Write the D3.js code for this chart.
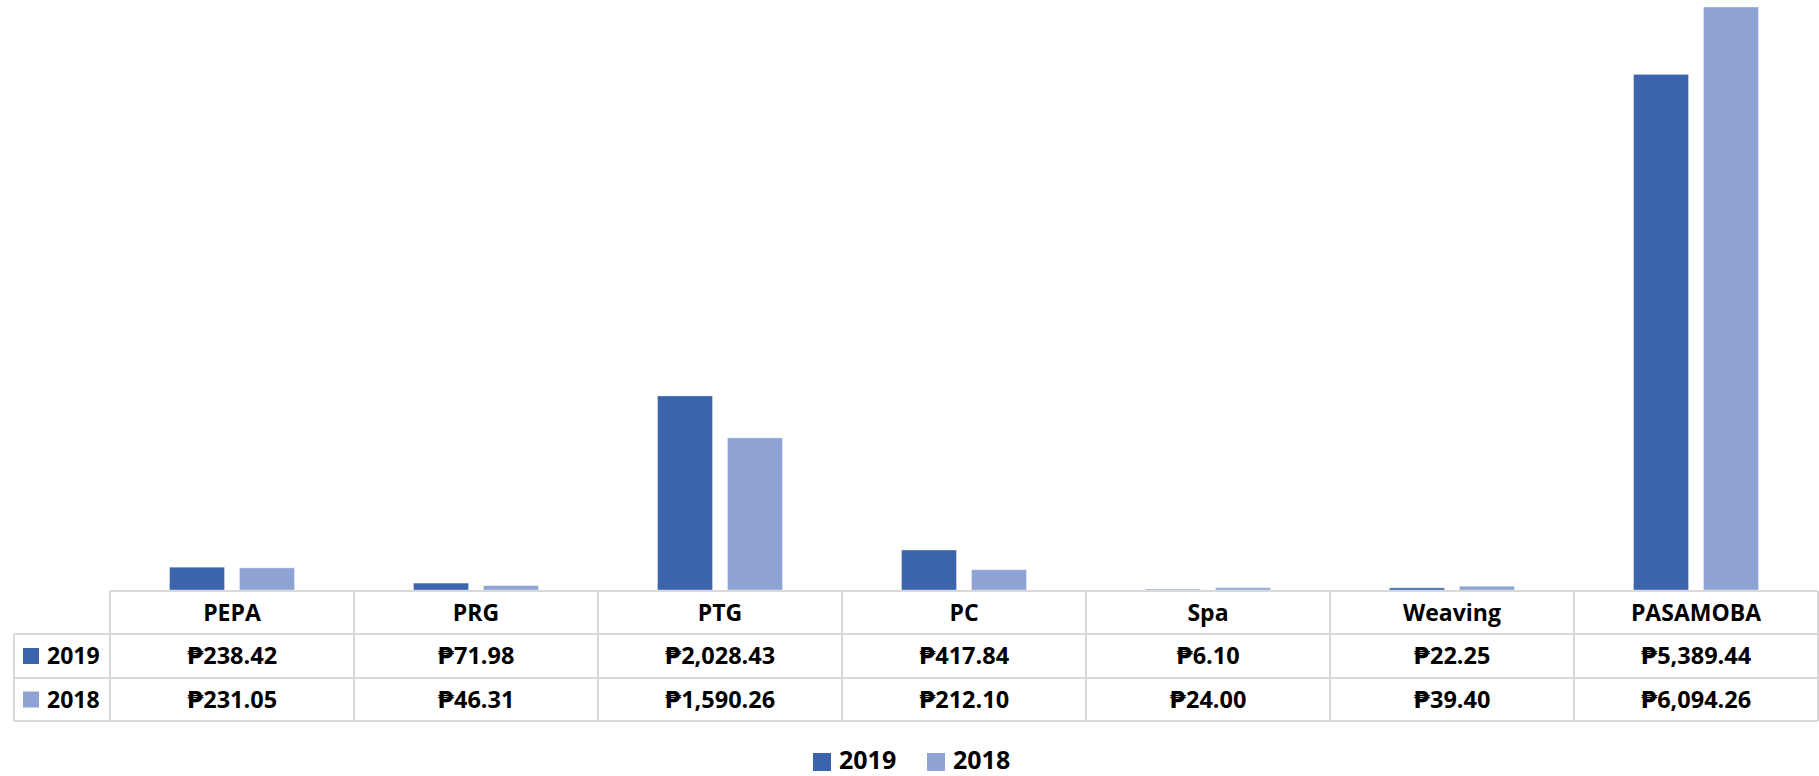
<!DOCTYPE html>
<html>
<head>
<meta charset="utf-8">
<script src="https://cdn.jsdelivr.net/npm/d3@7"></script>
<style>
  body { margin: 0; background: #fff; }
  text { font-family: "Open Sans", "DejaVu Sans", sans-serif; font-weight: bold; fill: #000; }
</style>
</head>
<body>
<div id="chart"></div>
<script>
/* DATA */
const categories = ["PEPA", "PRG", "PTG", "PC", "Spa", "Weaving", "PASAMOBA"];
const seriesNames = ["2019", "2018"];
const values2019 = [238.42, 71.98, 2028.43, 417.84, 6.10, 22.25, 5389.44];
const values2018 = [231.05, 46.31, 1590.26, 212.10, 24.00, 39.40, 6094.26];
const colors = ["#3c64ac", "#8fa4d4"];

/* CONSTANTS */
const width = 1819,
  height = 776,
  tableLeft = 110,
  tableRight = 1818,
  legendLeft = 14,
  baseline = 590,
  rowEdges = [591, 634, 678, 721],
  gridColor = "#d9d9d9";

const series = [values2019, values2018];
const pesoFmt = d3.format(",.2f");

const svg = d3.select("#chart")
  .append("svg")
  .attr("width", width)
  .attr("height", height);

// + SCALES
const xScale = d3.scaleBand()
  .domain(categories)
  .range([tableLeft, tableRight]);

// two bars per category, 55px wide with a 15px gap
const xInner = d3.scaleBand()
  .domain(seriesNames)
  .range([0, xScale.bandwidth()])
  .paddingInner(0.214)
  .paddingOuter(0.85);

const yScale = d3.scaleLinear()
  .domain([0, 6167])
  .range([baseline, 0]);

// + BARS
const groups = svg.append("g")
  .selectAll("g")
  .data(categories)
  .join("g")
  .attr("transform", d => `translate(${xScale(d)},0)`);

groups.selectAll("rect")
  .data((d, i) => seriesNames.map((s, j) => ({ s, v: series[j][i], c: colors[j] })))
  .join("rect")
  .attr("x", d => xInner(d.s))
  .attr("width", xInner.bandwidth())
  .attr("y", d => yScale(d.v))
  .attr("height", d => baseline - yScale(d.v))
  .attr("fill", d => d.c)
  .attr("stroke", "#fff")
  .attr("stroke-opacity", 0.35)
  .attr("stroke-width", 1);

// + DATA TABLE
const table = svg.append("g");

// horizontal lines
table.append("line")
  .attr("x1", tableLeft).attr("x2", tableRight)
  .attr("y1", rowEdges[0]).attr("y2", rowEdges[0]);
rowEdges.slice(1).forEach(y => {
  table.append("line")
    .attr("x1", legendLeft).attr("x2", tableRight)
    .attr("y1", y).attr("y2", y);
});

// vertical lines
const colEdges = categories.map(c => xScale(c)).concat([tableRight]);
colEdges.forEach(x => {
  table.append("line")
    .attr("x1", x).attr("x2", x)
    .attr("y1", rowEdges[0]).attr("y2", rowEdges[3]);
});
table.append("line")
  .attr("x1", legendLeft).attr("x2", legendLeft)
  .attr("y1", rowEdges[1]).attr("y2", rowEdges[3]);

table.selectAll("line")
  .attr("stroke", gridColor)
  .attr("stroke-width", 2);

const rowMid = i => (rowEdges[i] + rowEdges[i + 1]) / 2;

// header
table.selectAll(".head")
  .data(categories)
  .join("text")
  .attr("class", "head")
  .attr("x", d => xScale(d) + xScale.bandwidth() / 2)
  .attr("y", rowMid(0))
  .attr("dy", "0.36em")
  .attr("text-anchor", "middle")
  .attr("font-size", 23)
  .text(d => d);

// value rows
series.forEach((vals, j) => {
  table.append("rect")
    .attr("x", 23).attr("y", rowMid(j + 1) - 8)
    .attr("width", 16).attr("height", 16)
    .attr("fill", colors[j]);
  table.append("text")
    .attr("x", 47).attr("y", rowMid(j + 1))
    .attr("dy", "0.36em")
    .attr("font-size", 23)
    .text(seriesNames[j]);
  table.selectAll(".row" + j)
    .data(vals)
    .join("text")
    .attr("class", "row" + j)
    .attr("x", (d, i) => xScale(categories[i]) + xScale.bandwidth() / 2)
    .attr("y", rowMid(j + 1))
    .attr("dy", "0.36em")
    .attr("text-anchor", "middle")
    .attr("font-size", 23.5)
    .text(d => "₱" + pesoFmt(d));
});

// + LEGEND
const legend = svg.append("g").attr("transform", "translate(813,753)");
const legendX = [0, 114];
seriesNames.forEach((s, j) => {
  legend.append("rect")
    .attr("x", legendX[j]).attr("y", 0)
    .attr("width", 18).attr("height", 18)
    .attr("fill", colors[j]);
  legend.append("text")
    .attr("x", legendX[j] + 26).attr("y", 16)
    .attr("font-size", 25)
    .text(s);
});
</script>
</body>
</html>
